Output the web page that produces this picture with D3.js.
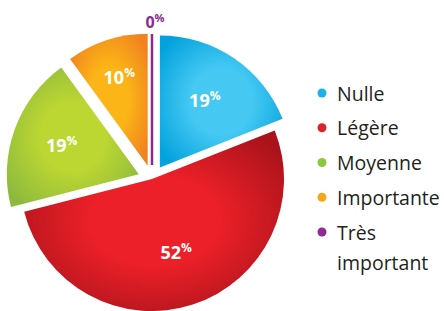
<!DOCTYPE html>
<html>
<head>
<meta charset="utf-8">
<script src="https://cdn.jsdelivr.net/npm/d3@7"></script>
<style>
  html, body { margin: 0; padding: 0; background: #ffffff; }
  svg { display: block; }
</style>
</head>
<body>
<svg id="chart" width="444" height="311"></svg>
<script>
// ---- data ----
const categories = ["Nulle", "Légère", "Moyenne", "Importante", "Très important"];
const values = [19, 52, 19, 10, 0];
const legendLines = [["Nulle"], ["Légère"], ["Moyenne"], ["Importante"], ["Très", "important"]];

// ---- styles ----
const lightColors = ["#45c9f3", "#ec2028", "#bcd632", "#fcb516", "#8a2b8f"];
const darkColors  = ["#03a2dd", "#a9131b", "#8dba3e", "#ef8320", "#8a2b8f"];
const dotColors   = ["#1cb2e8", "#d6252c", "#8dc63f", "#f9a51b", "#8d2b8f"];

const W = 444, H = 311;
const cx = 152, cy = 179, R = 132;
const explode = [14, 0, 14, 14, 14];
const labelR = [80, 78, 82, 92, 0];

const svg = d3.select("#chart");
const defs = svg.append("defs");

categories.forEach((c, i) => {
  const g = defs.append("radialGradient").attr("id", "grad" + i)
    .attr("cx", "50%").attr("cy", "50%").attr("r", "62%");
  g.append("stop").attr("offset", "0%").attr("stop-color", lightColors[i]);
  g.append("stop").attr("offset", "40%").attr("stop-color", lightColors[i]);
  g.append("stop").attr("offset", "100%").attr("stop-color", darkColors[i]);
});

const pie = d3.pie().sort(null).value(d => d).startAngle(0).endAngle(2 * Math.PI);
const arcs = pie(values);
const arc = d3.arc().innerRadius(0).outerRadius(R);

const root = svg.append("g").attr("transform", `translate(${cx},${cy})`);
const labelFont = "'Open Sans', 'Noto Sans', sans-serif";

arcs.forEach((a, i) => {
  const mid = (a.startAngle + a.endAngle) / 2;
  const [ox, oy] = d3.pointRadial(mid, explode[i]);
  const g = root.append("g").attr("transform", `translate(${ox},${oy})`);
  if (a.endAngle - a.startAngle > 1e-6) {
    g.append("path").attr("d", arc(a)).attr("fill", `url(#grad${i})`);
    const [lx, ly] = d3.pointRadial(mid, labelR[i]);
    const t = g.append("text")
      .attr("x", lx).attr("y", ly + 6)
      .attr("text-anchor", "middle")
      .attr("font-family", labelFont)
      .attr("font-weight", 700)
      .attr("font-size", 18)
      .attr("fill", "#ffffff");
    t.append("tspan").text(values[i]);
    t.append("tspan").attr("font-size", 12).attr("dy", -7).text("%");
  } else {
    const [x2, y2] = d3.pointRadial(a.startAngle, R);
    g.append("line").attr("x1", 0).attr("y1", 0).attr("x2", x2).attr("y2", y2 + 1)
      .attr("stroke", lightColors[i]).attr("stroke-width", 2.5);
    const [lx, ly] = d3.pointRadial(a.startAngle, R + 11);
    const t = g.append("text")
      .attr("x", lx + 3).attr("y", ly + 6)
      .attr("text-anchor", "middle")
      .attr("font-family", labelFont)
      .attr("font-weight", 700)
      .attr("font-size", 16)
      .attr("fill", lightColors[i]);
    t.append("tspan").text(values[i]);
    t.append("tspan").attr("font-size", 11).attr("dy", -6).text("%");
  }
});

// ---- legend ----
const legendY = d3.scalePoint().domain(categories).range([93, 232]);
const legend = svg.append("g");
categories.forEach((c, i) => {
  const y = legendY(c);
  legend.append("circle").attr("cx", 322).attr("cy", y).attr("r", 4.5).attr("fill", dotColors[i]);
  const t = legend.append("text")
    .attr("x", 337).attr("y", y + 7.5)
    .attr("font-family", labelFont)
    .attr("font-size", 19.5)
    .attr("fill", "#231f20");
  legendLines[i].forEach((line, j) => {
    t.append("tspan").attr("x", 337).attr("dy", j === 0 ? 0 : 30).text(line);
  });
});
</script>
</body>
</html>
